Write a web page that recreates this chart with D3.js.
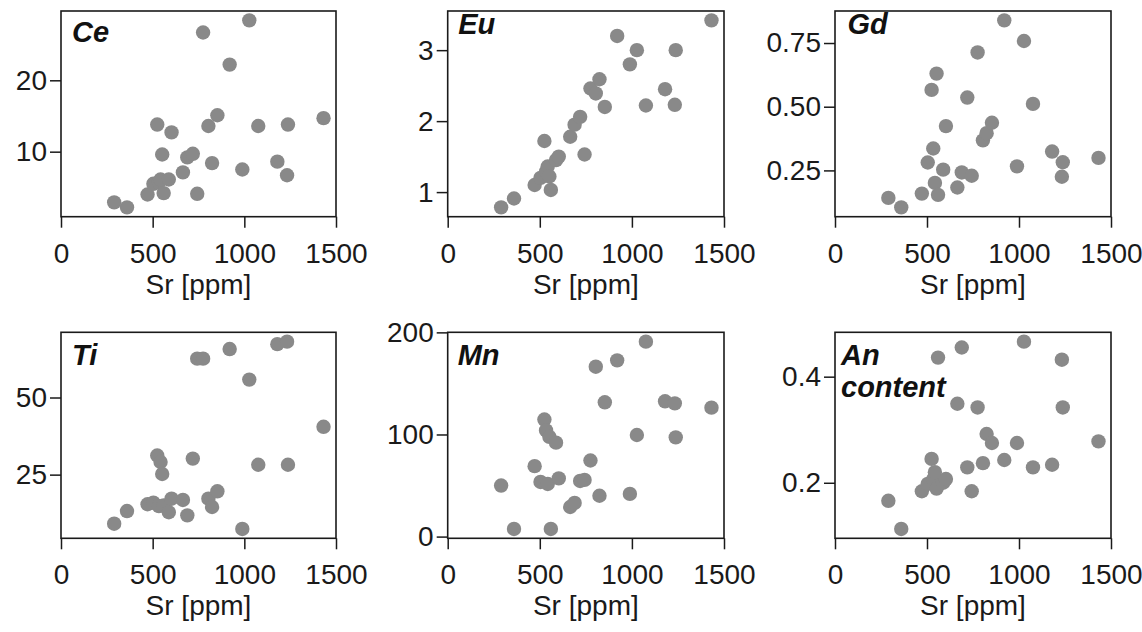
<!DOCTYPE html>
<html>
  <head>
    <meta charset="utf-8">
    <title>Trace elements vs Sr</title>
    <script src="https://d3js.org/d3.v7.min.js" charset="utf-8"></script>
    <style>
      body {
        margin: 0;
        background: #fff;
        font-family: 'Liberation Sans', Arial, sans-serif;
      }
      svg {
        background-color: #fff;
      }
      .tick line {
        stroke: #1a1a1a;
        stroke-width: 1.5px;
      }
      .tick text {
        fill: #1a1a1a;
        font-size: 28px;
        font-family: 'Liberation Sans', Arial, sans-serif;
      }
      .frame {
        fill: none;
        stroke: #1a1a1a;
        stroke-width: 1.6px;
      }
      .x-label {
        fill: #1a1a1a;
        font-size: 28px;
      }
      .panel-title {
        fill: #111;
        font-size: 29px;
        font-weight: 700;
        font-style: italic;
      }
    </style>
  </head>
  <body>
    <div id="chart"></div>
    <script>

    //*****
    // data
    //*****

    // Sr [ppm], same samples in every panel
    var sr = [290, 360, 472, 504, 525, 534, 543, 552, 560, 588, 603, 665, 689, 719,
              743, 775, 804, 824, 853, 920, 989, 1027, 1076, 1180, 1233, 1238, 1432];

    var ce = [2.9, 2.2, 4.0, 5.5, 13.8, 5.7, 6.1, 9.6, 4.2, 6.1, 12.7, 7.1, 9.2, 9.7,
              4.1, 26.7, 13.6, 8.4, 15.1, 22.2, 7.5, 28.4, 13.6, 8.6, 6.7, 13.8, 14.7];

    var eu = [0.785, 0.91, 1.10, 1.20, 1.72, 1.29, 1.36, 1.22, 1.03, 1.45, 1.50, 1.78, 1.95, 2.06,
              1.53, 2.46, 2.39, 2.59, 2.20, 3.20, 2.80, 3.00, 2.22, 2.45, 2.23, 3.00, 3.42];

    var gd = [0.142, 0.105, 0.159, 0.281, 0.566, 0.336, 0.201, 0.630, 0.154, 0.253, 0.424, 0.183, 0.242, 0.536,
              0.229, 0.713, 0.368, 0.396, 0.437, 0.839, 0.266, 0.758, 0.511, 0.324, 0.225, 0.282, 0.299];

    var ti = [9.1, 13.2, 15.4, 15.9, 31.2, 14.8, 29.1, 25.2, 15.0, 12.8, 17.2, 16.8, 11.8, 30.2,
              62.6, 62.6, 17.2, 14.5, 19.6, 65.7, 7.4, 55.8, 28.2, 67.3, 68.1, 28.2, 40.5];

    var mn = [50, 7.5, 69, 53.5, 114.6, 104, 51.5, 97.7, 7.5, 92, 57, 29, 33, 54.5,
              55.5, 74.5, 166.4, 40, 131.5, 172.6, 41.8, 99.5, 190.9, 132.5, 130.5, 97.2, 126.3];

    var an = [0.166, 0.113, 0.184, 0.198, 0.245, 0.207, 0.220, 0.189, 0.436, 0.200, 0.207, 0.349, 0.455, 0.229,
              0.184, 0.342, 0.237, 0.292, 0.275, 0.243, 0.275, 0.466, 0.229, 0.234, 0.432, 0.342, 0.278];

    var xTicks = [0, 500, 1000, 1500];
    var xLabel = "Sr [ppm]";

    var panels = [
      {title: ["Ce"], values: ce, ticks: [10, 20], fmt: "d"},
      {title: ["Eu"], values: eu, ticks: [1, 2, 3], fmt: "d"},
      {title: ["Gd"], values: gd, ticks: [0.25, 0.5, 0.75], fmt: ".2f"},
      {title: ["Ti"], values: ti, ticks: [25, 50], fmt: "d"},
      {title: ["Mn"], values: mn, ticks: [0, 100, 200], fmt: "d"},
      {title: ["An", "content"], values: an, ticks: [0.2, 0.4], fmt: ".1f"}
    ];

    //*******
    // layout
    //*******

    var width = 1142,
        height = 632;

    var cols = [[61, 336], [447.7, 724], [835, 1111]];
    var rows = [[11, 216.7], [332.3, 538.3]];

    // title offsets from the panel's top-left corner
    var titlePos = [[11, 31], [10.5, 22.5], [12.5, 22.5], [11, 32.5], [10, 32.5], [6, 32.5]];

    var pointColor = "#898989";
    var radius = 7.2;

    var svg = d3.select("#chart").append("svg")
        .attr("width", width)
        .attr("height", height);

    panels.forEach(function(p, i) {
        var c = cols[i % 3], r = rows[Math.floor(i / 3)];

        var x = d3.scaleLinear().domain([0, 1500]).range([c[0], c[1]]);

        // matplotlib-style 5% margins around the data
        var ext = d3.extent(p.values);
        var pad = (ext[1] - ext[0]) * 0.05;
        var y = d3.scaleLinear().domain([ext[0] - pad, ext[1] + pad]).range([r[1], r[0]]);

        var g = svg.append("g").attr("class", "panel");

        // points
        g.append("g")
          .selectAll("circle")
          .data(sr.map((s, k) => ({sr: s, v: p.values[k]})))
          .enter().append("circle")
          .attr("cx", d => x(d.sr))
          .attr("cy", d => y(d.v))
          .attr("r", radius)
          .attr("fill", pointColor);

        // axes
        var xAxis = g.append("g")
            .attr("transform", `translate(0, ${r[1]})`)
            .call(d3.axisBottom(x).tickValues(xTicks).tickFormat(d3.format("d"))
              .tickSize(11).tickPadding(15).tickSizeOuter(0));
        xAxis.select(".domain").remove();

        var yAxis = g.append("g")
            .attr("transform", `translate(${c[0]}, 0)`)
            .call(d3.axisLeft(y).tickValues(p.ticks).tickFormat(d3.format(p.fmt))
              .tickSize(11).tickPadding(3).tickSizeOuter(0));
        yAxis.select(".domain").remove();

        // frame
        g.append("rect")
          .attr("class", "frame")
          .attr("x", c[0])
          .attr("y", r[0])
          .attr("width", c[1] - c[0])
          .attr("height", r[1] - r[0]);

        // x label
        g.append("text")
          .attr("class", "x-label")
          .attr("x", (c[0] + c[1]) / 2)
          .attr("y", r[1] + 77)
          .attr("text-anchor", "middle")
          .text(xLabel);

        // panel title
        var t = g.append("text")
          .attr("class", "panel-title")
          .attr("x", c[0] + titlePos[i][0])
          .attr("y", r[0] + titlePos[i][1]);
        t.selectAll("tspan")
          .data(p.title)
          .enter().append("tspan")
          .attr("x", c[0] + titlePos[i][0])
          .attr("dy", (d, k) => k === 0 ? 0 : 32)
          .text(d => d);
    });

    </script>
  </body>
</html>
